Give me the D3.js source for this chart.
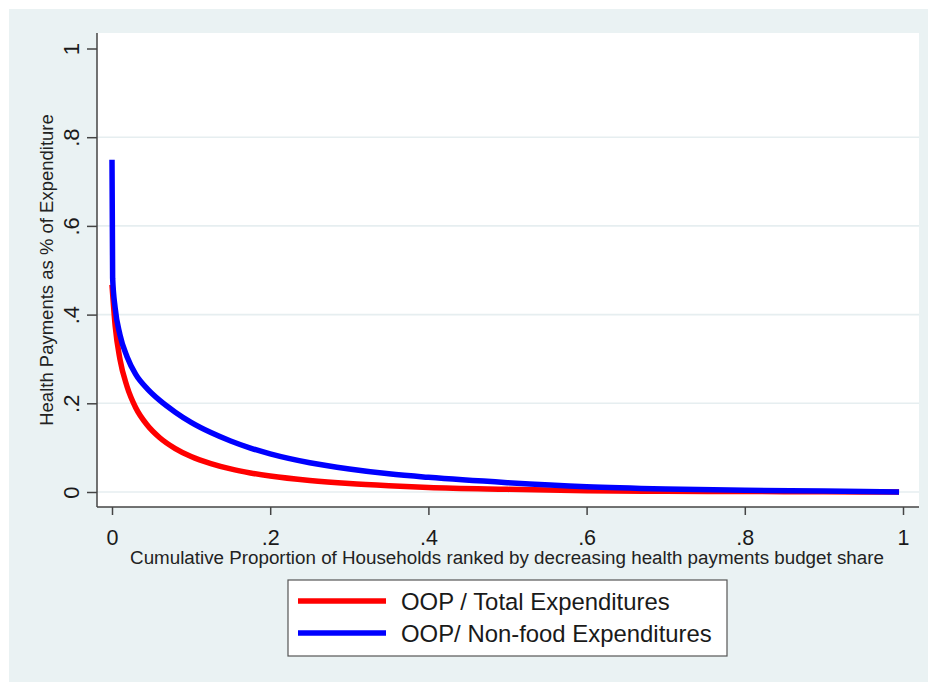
<!DOCTYPE html>
<html>
<head>
<meta charset="utf-8">
<script src="https://cdn.jsdelivr.net/npm/d3@7"></script>
<style>
  html, body { margin: 0; padding: 0; background: #ffffff; }
  svg { display: block; font-family: Arial, "Liberation Sans", sans-serif; }
</style>
</head>
<body>
<svg id="chart" width="928" height="682"></svg>
<script>
// ---- data ----
const xTicks = [0, 0.2, 0.4, 0.6, 0.8, 1];
const xTickLabels = ["0", ".2", ".4", ".6", ".8", "1"];
const yTicks = [0, 0.2, 0.4, 0.6, 0.8, 1];
const yTickLabels = ["0", ".2", ".4", ".6", ".8", "1"];
const yGrid = [0, 0.2, 0.4, 0.6, 0.8];

const propHouseholdsTotal = [0, 0.004, 0.010, 0.019, 0.030, 0.045, 0.060, 0.080, 0.100, 0.125, 0.150, 0.175, 0.200, 0.250, 0.300, 0.350, 0.400, 0.500, 0.600, 0.700, 0.800, 0.900, 0.995];
const shareTotal          = [0.467, 0.375, 0.300, 0.238, 0.190, 0.150, 0.123, 0.098, 0.080, 0.064, 0.052, 0.043, 0.036, 0.026, 0.019, 0.014, 0.010, 0.006, 0.003, 0.0015, 0.001, 0.0005, 0.0];

const propHouseholdsNonFood = [0, 0.0008, 0.004, 0.010, 0.019, 0.030, 0.045, 0.060, 0.080, 0.100, 0.125, 0.150, 0.175, 0.200, 0.250, 0.300, 0.350, 0.400, 0.500, 0.600, 0.700, 0.800, 0.900, 0.995];
const shareNonFood          = [0.749, 0.482, 0.415, 0.355, 0.305, 0.265, 0.232, 0.207, 0.180, 0.157, 0.134, 0.115, 0.099, 0.086, 0.066, 0.052, 0.041, 0.033, 0.021, 0.012, 0.007, 0.004, 0.002, 0.0];

const seriesNames = ["OOP / Total Expenditures", "OOP/ Non-food Expenditures"];
const seriesColors = ["#ff0000", "#0000ff"];
const xTitle = "Cumulative Proportion of Households ranked by decreasing health payments budget share";
const yTitle = "Health Payments as % of Expenditure";

// ---- layout ----
const svg = d3.select("#chart");
const bg = { x: 9, y: 9, w: 919, h: 673 };
const plot = { left: 97, right: 919, top: 33, bottom: 507 };

svg.append("rect").attr("x", bg.x).attr("y", bg.y).attr("width", bg.w).attr("height", bg.h)
  .attr("fill", "#eaf2f3");
svg.append("rect").attr("x", plot.left).attr("y", plot.top)
  .attr("width", plot.right - plot.left).attr("height", plot.bottom - plot.top)
  .attr("fill", "#ffffff");

const x = d3.scaleLinear().domain([0, 1]).range([112, 903]);
const y = d3.scaleLinear().domain([0, 1]).range([492, 48.5]);

// grid
svg.append("g").selectAll("line").data(yGrid).join("line")
  .attr("x1", plot.left).attr("x2", plot.right)
  .attr("y1", d => y(d)).attr("y2", d => y(d))
  .attr("stroke", "#e6eef0").attr("stroke-width", 1.6);

// axes
const axisColor = "#444";
const xAxis = d3.axisBottom(x).tickValues(xTicks).tickSize(8)
  .tickFormat((d, i) => xTickLabels[i]);
const gx = svg.append("g").attr("transform", `translate(0,${plot.bottom})`).call(xAxis);
gx.select(".domain").remove();
gx.selectAll(".tick line").attr("stroke", axisColor).attr("stroke-width", 1.5);
gx.selectAll(".tick text").attr("fill", "#1a1a1a").attr("font-size", 21.5)
  .attr("font-family", "Arial, 'Liberation Sans', sans-serif").attr("y", 37.5).attr("dy", 0);
svg.append("line").attr("x1", plot.left).attr("x2", plot.right)
  .attr("y1", plot.bottom).attr("y2", plot.bottom)
  .attr("stroke", axisColor).attr("stroke-width", 1.5);

const yAxis = d3.axisLeft(y).tickValues(yTicks).tickSize(10)
  .tickFormat((d, i) => yTickLabels[i]);
const gy = svg.append("g").attr("transform", `translate(${plot.left},0)`).call(yAxis);
gy.select(".domain").remove();
gy.selectAll(".tick line").attr("stroke", axisColor).attr("stroke-width", 1.5);
gy.selectAll(".tick text").attr("fill", "#1a1a1a").attr("font-size", 22)
  .attr("font-family", "Arial, 'Liberation Sans', sans-serif")
  .attr("x", null).attr("dy", null)
  .attr("text-anchor", "middle")
  .attr("transform", "translate(-26,0) rotate(-90)")
  .attr("dy", "0.36em");
svg.append("line").attr("x1", plot.left).attr("x2", plot.left)
  .attr("y1", plot.top).attr("y2", plot.bottom)
  .attr("stroke", axisColor).attr("stroke-width", 1.5);

// titles
svg.append("text").attr("x", 507).attr("y", 564).attr("text-anchor", "middle")
  .attr("font-size", 18.8).attr("fill", "#222").text(xTitle);
svg.append("text").attr("transform", "translate(53,270) rotate(-90)").attr("text-anchor", "middle")
  .attr("font-size", 18.5).attr("fill", "#222").text(yTitle);

// lines
const line = d3.line().x(d => x(d[0])).y(d => y(d[1])).curve(d3.curveMonotoneX);
const dataTotal = propHouseholdsTotal.map((p, i) => [p, shareTotal[i]]);
const dataNonFood = propHouseholdsNonFood.map((p, i) => [p, shareNonFood[i]]);
[dataTotal, dataNonFood].forEach((data, i) => {
  svg.append("path").datum(data).attr("d", line)
    .attr("fill", "none").attr("stroke", seriesColors[i])
    .attr("stroke-width", 5.5).attr("stroke-linejoin", "round");
});

// legend
const lg = svg.append("g");
lg.append("rect").attr("x", 288).attr("y", 580).attr("width", 439).attr("height", 76)
  .attr("fill", "#ffffff").attr("stroke", "#555").attr("stroke-width", 1.2);
seriesNames.forEach((name, i) => {
  const cy = 601 + i * 32;
  lg.append("line").attr("x1", 298).attr("x2", 386).attr("y1", cy).attr("y2", cy)
    .attr("stroke", seriesColors[i]).attr("stroke-width", 5.5);
  lg.append("text").attr("x", 401).attr("y", cy + 9).attr("font-size", 23.9)
    .attr("fill", "#1a1a1a").text(name);
});
</script>
</body>
</html>
